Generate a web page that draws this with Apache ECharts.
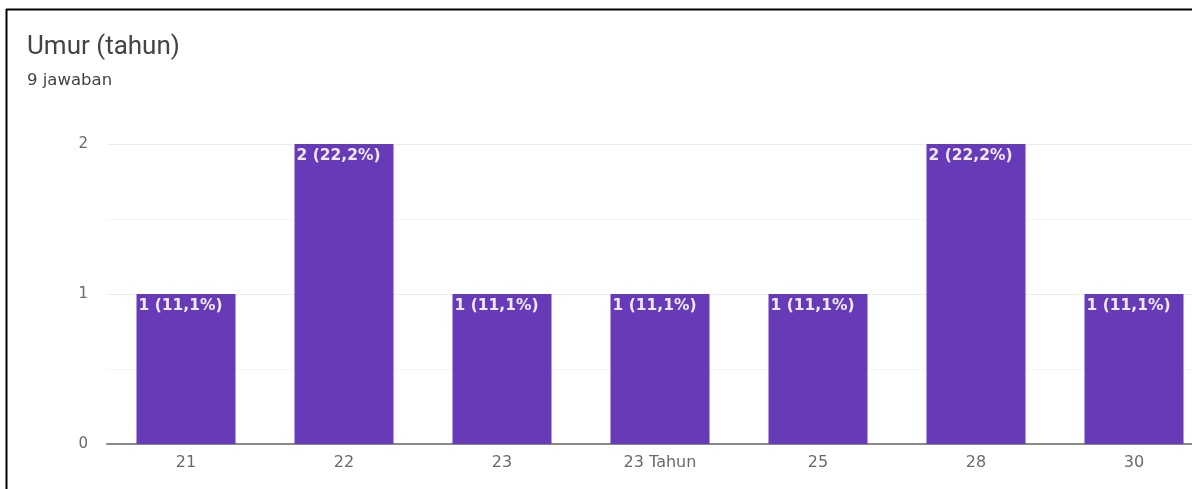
<!DOCTYPE html>
<html>
<head>
<meta charset="utf-8">
<script src="https://cdn.jsdelivr.net/npm/echarts@6/dist/echarts.min.js"></script>
<style>
  html, body { margin: 0; padding: 0; background: #fff; overflow: hidden; width: 1192px; height: 489px; }
  #chart { width: 1213px; height: 489px; }
</style>
</head>
<body>
<div id="chart"></div>
<script>
// Age categories and answer counts
const categories = ['21', '22', '23', '23 Tahun', '25', '28', '30'];
const counts = [1, 2, 1, 1, 1, 2, 1];
const percentLabels = ['11,1%', '22,2%', '11,1%', '11,1%', '11,1%', '22,2%', '11,1%'];
const yTicks = [0, 1, 2];
const totalAnswers = 9;

const chart = echarts.init(document.getElementById('chart'));

chart.setOption({
  animation: false,
  backgroundColor: '#ffffff',
  title: {
    text: 'Umur (tahun)',
    subtext: totalAnswers + ' jawaban',
    left: 22,
    top: 29,
    itemGap: 12,
    textStyle: { fontFamily: 'Roboto, Arial, sans-serif', fontSize: 26, fontWeight: 'normal', color: '#444' },
    subtextStyle: { fontFamily: '"DejaVu Sans", sans-serif', fontSize: 16.5, color: '#444' }
  },
  graphic: [
    { type: 'line', shape: { x1: 6, y1: 9.5, x2: 1213, y2: 9.5 }, style: { stroke: '#000', lineWidth: 2 } },
    { type: 'line', shape: { x1: 6.5, y1: 9, x2: 6.5, y2: 489 }, style: { stroke: '#000', lineWidth: 2 } }
  ],
  grid: { left: 107, top: 144, right: 0, bottom: 45, containLabel: false },
  xAxis: {
    type: 'category',
    data: categories,
    axisTick: { show: false },
    axisLine: { lineStyle: { color: '#888', width: 2 } },
    axisLabel: { color: '#6a6a6a', fontFamily: '"DejaVu Sans", sans-serif', fontSize: 16, margin: 11 }
  },
  yAxis: {
    type: 'value',
    min: yTicks[0],
    max: yTicks[yTicks.length - 1],
    interval: 1,
    axisLine: { show: false },
    axisTick: { show: false },
    axisLabel: { color: '#6a6a6a', fontFamily: '"DejaVu Sans", sans-serif', fontSize: 15, margin: 19 },
    splitLine: { lineStyle: { color: '#ececec', width: 1 } },
    minorTick: { show: false, splitNumber: 2 },
    minorSplitLine: { show: true, lineStyle: { color: '#f4f4f4', width: 1 } }
  },
  series: [{
    type: 'bar',
    data: counts,
    barWidth: 99,
    itemStyle: { color: '#673ab7' },
    label: {
      show: true,
      position: 'insideTopLeft',
      distance: 4,
      color: '#eeeaf6',
      fontFamily: '"DejaVu Sans", sans-serif',
      fontWeight: 'bold',
      fontSize: 15.5,
      offset: [-2, 0],
      formatter: p => p.value + ' (' + percentLabels[p.dataIndex] + ')'
    }
  }]
});
</script>
</body>
</html>
